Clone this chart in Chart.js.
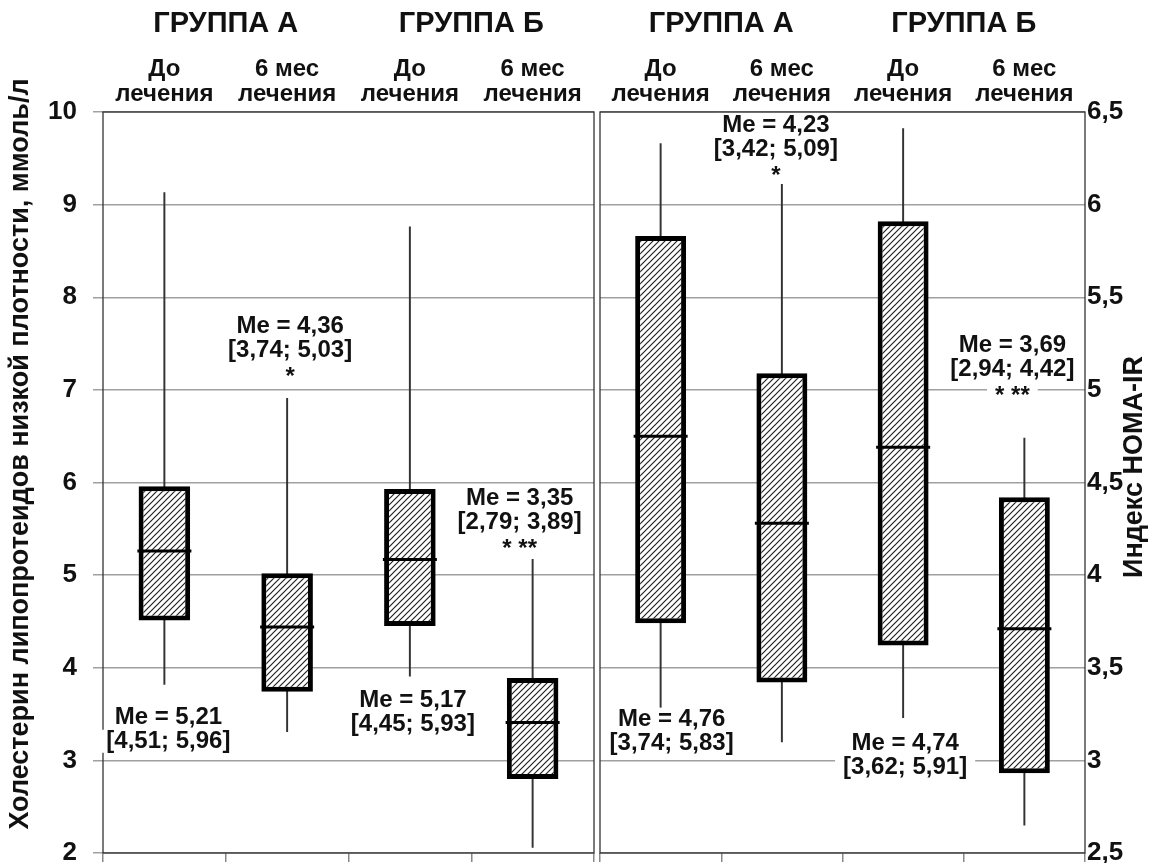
<!DOCTYPE html>
<html>
<head>
<meta charset="utf-8">
<script src="https://cdn.jsdelivr.net/npm/chart.js@4.4.1/dist/chart.umd.min.js"></script>
<style>
html, body { margin: 0; padding: 0; background: #fff; }
#wrap { position: relative; width: 1152px; height: 863px; }
canvas { position: absolute; top: 0; }
</style>
</head>
<body>
<div id="wrap">
  <canvas id="ldlChart" width="598" height="863" style="left:0"></canvas>
  <canvas id="homaChart" width="558" height="863" style="left:594px"></canvas>
</div>
<script>
// подписи
const periods = [['До', 'лечения'], ['6 мес', 'лечения'], ['До', 'лечения'], ['6 мес', 'лечения']];
const groups = ['ГРУППА А', 'ГРУППА Б'];

// ЛПНП, ммоль/л
const ldlMin = [3.82, 3.31, 3.91, 2.06];
const ldlQ1 = [4.51, 3.74, 4.45, 2.80];
const ldlMed = [5.26, 4.44, 5.17, 3.41];
const ldlQ3 = [5.96, 5.02, 5.93, 3.89];
const ldlMax = [9.13, 6.91, 8.76, 5.17];
const ldlNotes = [
    ['Me = 5,21', '[4,51; 5,96]'],
    ['Me = 4,36', '[3,74; 5,03]', '*'],
    ['Me = 5,17', '[4,45; 5,93]'],
    ['Me = 3,35', '[2,79; 3,89]', '* **']
];

// HOMA-IR
const homaMin = [3.28, 3.10, 3.23, 2.65];
const homaQ1 = [3.74, 3.42, 3.62, 2.93];
const homaMed = [4.75, 4.28, 4.69, 3.71];
const homaQ3 = [5.83, 5.09, 5.91, 4.42];
const homaMax = [6.33, 6.18, 6.41, 4.74];
const homaNotes = [
    ['Me = 4,76', '[3,74; 5,83]'],
    ['Me = 4,23', '[3,42; 5,09]', '*'],
    ['Me = 4,74', '[3,62; 5,91]'],
    ['Me = 3,69', '[2,94; 4,42]', '* **']
];

Chart.defaults.font.family = "'Liberation Sans', Arial, sans-serif";
Chart.defaults.font.weight = 'bold';
Chart.defaults.color = '#111';

const FONT = "'Liberation Sans', Arial, sans-serif";

// штриховка ////
function hatch() {
    let c = document.createElement('canvas');
    c.width = 6; c.height = 6;
    let g = c.getContext('2d');
    g.fillStyle = '#fff';
    g.fillRect(0, 0, 6, 6);
    g.strokeStyle = '#222';
    g.lineWidth = 1.2;
    g.beginPath();
    g.moveTo(0, 6); g.lineTo(6, 0);
    g.moveTo(-1, 1); g.lineTo(1, -1);
    g.moveTo(5, 7); g.lineTo(7, 5);
    g.stroke();
    return g.createPattern(c, 'repeat');
}

// рамка панели
const framePlugin = {
    id: 'frame',
    beforeDatasetsDraw(chart) {
        const a = chart.chartArea, ctx = chart.ctx;
        ctx.save();
        ctx.strokeStyle = '#333';
        ctx.lineWidth = 1.3;
        ctx.strokeRect(a.left, a.top, a.right - a.left, a.bottom - a.top);
        ctx.restore();
    }
};

// подписи Me = ... над/под боксами
const notesPlugin = {
    id: 'notes',
    afterDatasetsDraw(chart, args, opts) {
        const ctx = chart.ctx, xs = chart.scales.x, ys = chart.scales.y;
        ctx.save();
        ctx.font = 'bold 24px ' + FONT;
        ctx.textAlign = 'center';
        ctx.textBaseline = 'middle';
        opts.lines.forEach((lines, i) => {
            const cx = xs.getPixelForValue(i) + opts.dx[i];
            const cy = ys.getPixelForValue(opts.at[i]);
            lines.forEach((t, j) => {
                const yy = cy + j * 24;
                const w = ctx.measureText(t).width;
                ctx.fillStyle = '#fff';
                ctx.fillRect(cx - w / 2 - 8, yy - 12, w + 16, 23);
                ctx.fillStyle = '#111';
                ctx.fillText(t, cx, yy + (t.indexOf('*') === 0 ? 3 : 0));
            });
        });
        // подпись оси (снизу вверх)
        const st = opts.title;
        ctx.translate(st.x, st.y);
        ctx.rotate(-Math.PI / 2);
        ctx.font = 'bold 27px ' + FONT;
        ctx.fillText(st.text, 0, 0);
        ctx.restore();
    }
};

// фиксированные размеры осей
function fixWidth(w) {
    return (s) => { s.width = w; s.paddingTop = 0; s.paddingBottom = 0; };
}

function panel(id, side, mn, q1, med, q3, mx, notes, at, dx, title, yOpts) {
    let pattern = hatch();
    return new Chart(id, {
        type: 'bar',
        data: {
            labels: periods,
            datasets: [{
                label: 'whisker',
                data: mn.map((v, i) => [v, mx[i]]),
                backgroundColor: '#333',
                barThickness: 1.3,
                grouped: false,
                order: 3
            }, {
                label: 'box',
                data: q1.map((v, i) => [v, q3[i]]),
                backgroundColor: pattern,
                borderColor: '#000',
                borderWidth: 5,
                borderSkipped: false,
                barPercentage: 0.42,
                categoryPercentage: 1,
                grouped: false,
                order: 2
            }, {
                type: 'line',
                label: 'median',
                data: med,
                showLine: false,
                pointStyle: 'line',
                pointRadius: 27,
                pointHoverRadius: 27,
                pointBorderWidth: 3,
                pointBorderColor: '#000',
                borderColor: '#000',
                order: 1
            }]
        },
        options: {
            responsive: false,
            animation: false,
            events: [],
            layout: { autoPadding: false, padding: side === 'left' ? { right: 4 } : { left: 6 } },
            plugins: {
                legend: { display: false },
                tooltip: { enabled: false },
                notes: { lines: notes, at: at, dx: dx, title: title }
            },
            scales: {
                x: {
                    position: 'top',
                    offset: true,
                    grid: { display: false },
                    border: { display: false },
                    ticks: { font: { size: 24, lineHeight: '25px' }, padding: -3, maxRotation: 0, autoSkip: false },
                    afterFit: (s) => { s.height = 72; }
                },
                xg: {
                    type: 'category',
                    labels: groups,
                    position: 'top',
                    weight: 10,
                    offset: true,
                    grid: { display: false },
                    border: { display: false },
                    ticks: { font: { size: 29, lineHeight: '32px' }, padding: -8, maxRotation: 0 },
                    afterFit: (s) => { s.height = 40; }
                },
                xb: {
                    type: 'category',
                    position: 'bottom',
                    offset: true,
                    grid: { offset: true, drawOnChartArea: false, tickLength: 9, color: '#888', lineWidth: 1.5 },
                    border: { display: false },
                    ticks: { display: false },
                    afterFit: (s) => { s.height = 10; }
                },
                y: yOpts
            }
        },
        plugins: [framePlugin, notesPlugin]
    });
}

panel('ldlChart', 'left', ldlMin, ldlQ1, ldlMed, ldlQ3, ldlMax, ldlNotes,
    [3.46, 7.69, 3.65, 5.83], [4, 3, 3, -13],
    { text: 'Холестерин липопротеидов низкой плотности, ммоль/л', x: 21, y: 454 },
    {
        position: 'left',
        min: 2, max: 10,
        ticks: { stepSize: 1, font: { size: 26 }, padding: 16 },
        grid: { color: '#a0a0a0', lineWidth: 1.5, tickLength: 10 },
        border: { display: false },
        afterFit: fixWidth(103)
    });

panel('homaChart', 'right', homaMin, homaQ1, homaMed, homaQ3, homaMax, homaNotes,
    [3.22, 6.43, 3.09, 5.24], [11, -6, 2, -12],
    { text: 'Индекс HOMA-IR', x: 541, y: 467 },
    {
        position: 'right',
        min: 2.5, max: 6.5,
        ticks: { stepSize: 0.5, font: { size: 26 }, padding: 2, callback: (v) => String(v).replace('.', ',') },
        grid: { color: '#a0a0a0', lineWidth: 1.5, drawTicks: false },
        border: { display: false },
        afterFit: fixWidth(67)
    });
</script>
</body>
</html>
